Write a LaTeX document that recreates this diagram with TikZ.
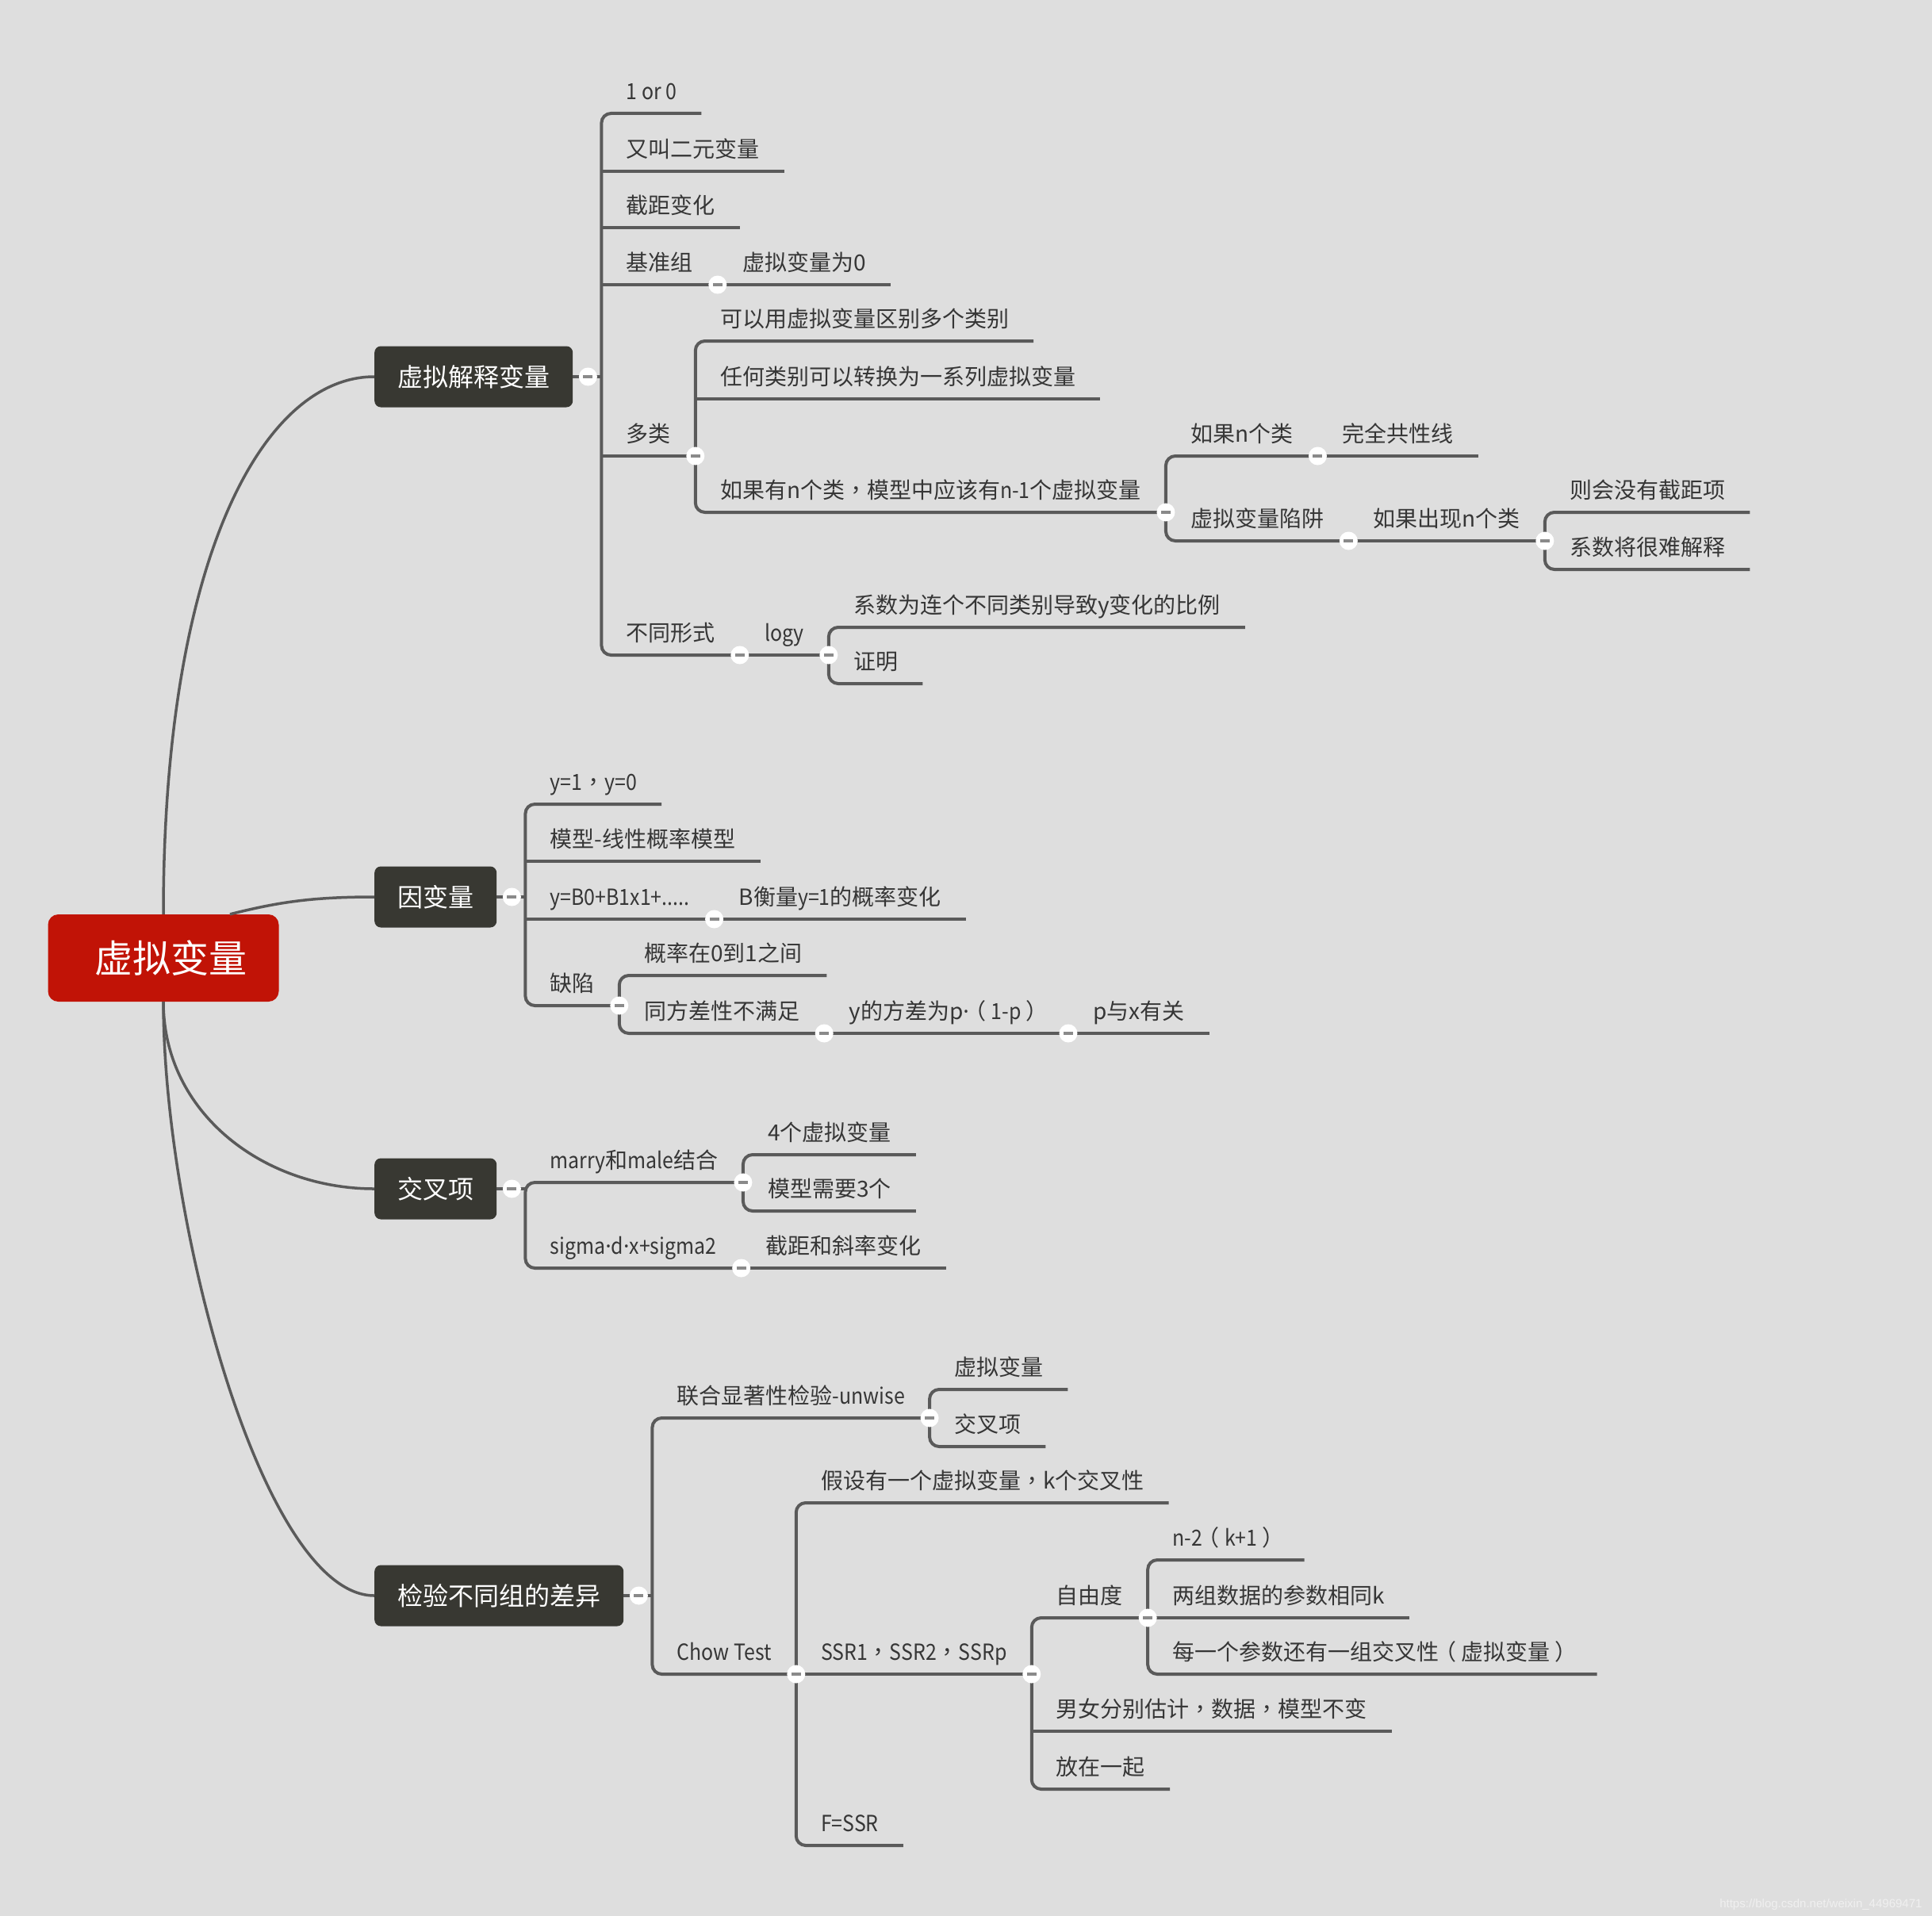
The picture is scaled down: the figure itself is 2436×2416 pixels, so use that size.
\documentclass[tikz,border=0pt]{standalone}
\usepackage{fontspec}
\setmainfont{Noto Sans CJK SC}
\newfontfamily\latnfont{Noto Sans CJK SC}[FakeStretch=0.89]
\newfontfamily\tcfont{Noto Sans CJK TC}
\newfontfamily\dotfont{Noto Sans}
\newfontfamily\wmfont{Liberation Sans}
\usepackage{tikz}
\usetikzlibrary{positioning}
\usepackage{xcolor}

\definecolor{bgc}{HTML}{DEDEDE}
\definecolor{linec}{HTML}{5A5A5A}
\definecolor{textc}{HTML}{363636}
\definecolor{boxc}{HTML}{383832}
\definecolor{rootc}{HTML}{C11306}
\definecolor{foldc}{HTML}{8A8A8A}

\tikzset{
  root/.style={rectangle, rounded corners=13pt, fill=rootc, text=white,
    font=\fontsize{48}{50}\selectfont, text height=38pt, text depth=2pt,
    inner xsep=0pt, minimum width=291pt, minimum height=110pt},
  branch/.style={rectangle, rounded corners=8pt, fill=boxc, text=white, anchor=west,
    font=\fontsize{32}{34}\selectfont, text height=26pt, text depth=2pt,
    inner xsep=29pt, minimum height=77pt},
  leaf/.style={anchor=south west, inner xsep=31pt, inner ysep=10pt,
    text height=22pt, text depth=7pt, text=textc,
    font=\fontsize{28}{30}\selectfont},
  link/.style={draw=linec, line width=4pt, rounded corners=12pt},
  curve/.style={draw=linec, line width=3.5pt},
  fold/.style={circle, fill=white, minimum size=23pt, inner sep=0pt},
}
\newcommand{\foldmark}{\textcolor{foldc}{\rule[-2pt]{12pt}{4pt}}}
\newcommand{\latn}[1]{{\latnfont #1}}
\newcommand{\fw}[1]{{\tcfont #1}}
\newcommand{\lpar}{\makebox[1em][l]{\kern-0.22em（}}
\newcommand{\rpar}{\makebox[1em][l]{\kern0.22em）}}
\newcommand{\mdot}{{\dotfont ·}}

\begin{document}
\begin{tikzpicture}[x=1pt, y=-1pt]
  \fill[bgc] (0,0) rectangle (2436,2416);
  \useasboundingbox (0,0) rectangle (2436,2416);

  % 中心主题
  \node[root] (root) at (206,1208) {\hspace*{18pt}虚拟变量};

  % 四个主分支
  \node[branch] (m1) at (472,475) {虚拟解释变量};
  \node[branch] (m2) at (472,1131) {因变量};
  \node[branch] (m3) at (472,1499) {交叉项};
  \node[branch] (m4) at (472,2012) {检验不同组的差异};

  \draw[curve] (root.north) .. controls +(0,-450) and +(-140,0) .. (m1.west);
  \draw[curve] ([xshift=84pt]root.north) .. controls +(60,-15) and +(-80,0) .. (m2.west);
  \draw[curve] (root.south) .. controls +(0,140) and +(-140,0) .. (m3.west);
  \draw[curve] (root.south) .. controls +(0,280) and +(-140,0) .. (m4.west);

  % 虚拟解释变量
  \coordinate (j1) at ([xshift=36pt]m1.east);
  \node[leaf] (a1) at (j1 |- 0,143) {\latn{1 or 0}};
  \node[leaf] (a2) at (j1 |- 0,216) {又叫二元变量};
  \node[leaf] (a3) at (j1 |- 0,287) {截距变化};
  \node[leaf] (a4) at (j1 |- 0,359) {基准组};
  \node[leaf] (a41) at (a4.south east) {虚拟变量为0};
  \node[leaf] (a5) at (j1 |- 0,575) {多类};
  \node[leaf] (a51) at (a5.south east |- 0,430) {可以用虚拟变量区别多个类别};
  \node[leaf] (a52) at (a5.south east |- 0,503) {任何类别可以转换为一系列虚拟变量};
  \node[leaf] (a53) at (a5.south east |- 0,646) {如果有n个类\fw{，}模型中应该有\latn{n-1}个虚拟变量};
  \node[leaf] (a531) at (a53.south east |- 0,575) {如果n个类};
  \node[leaf] (a532) at (a531.south east) {完全共性线};
  \node[leaf] (a533) at (a53.south east |- 0,682) {虚拟变量陷阱};
  \node[leaf] (a534) at (a533.south east) {如果出现n个类};
  \node[leaf] (a535) at (a534.south east |- 0,646) {则会没有截距项};
  \node[leaf] (a536) at (a534.south east |- 0,718) {系数将很难解释};
  \node[leaf] (a6) at (j1 |- 0,826) {不同形式};
  \node[leaf] (a61) at (a6.south east) {\latn{logy}};
  \node[leaf] (a62) at (a61.south east |- 0,791) {系数为连个不同类别导致y变化的比例};
  \node[leaf] (a63) at (a61.south east |- 0,862) {证明};

  \draw[link] (m1.east) -- (j1);
  \draw[link] (a1.south east) -| (j1 |- a6.south east) -- (a6.south east);
  \foreach \n in {a2,a3,a4,a5}
    \draw[link] (j1 |- \n.south east) -- (\n.south east);
  \draw[link] (a4.south east) -- (a41.south east);
  \draw[link] (a51.south east) -| (a5.south east |- a53.south east) -- (a53.south east);
  \draw[link] (a5.south east |- a52.south east) -- (a52.south east);
  \draw[link] (a531.south east) -| (a53.south east |- a533.south east) -- (a533.south east);
  \draw[link] (a531.south east) -- (a532.south east);
  \draw[link] (a533.south east) -- (a534.south east);
  \draw[link] (a535.south east) -| (a534.south east |- a536.south east) -- (a536.south east);
  \draw[link] (a6.south east) -- (a61.south east);
  \draw[link] (a62.south east) -| (a61.south east |- a63.south east) -- (a63.south east);

  % 因变量
  \coordinate (j2) at ([xshift=36pt]m2.east);
  \node[leaf] (b1) at (j2 |- 0,1014) {\latn{y=1}\fw{，}\latn{y=0}};
  \node[leaf] (b2) at (j2 |- 0,1086) {模型-线性概率模型};
  \node[leaf] (b3) at (j2 |- 0,1159) {\latn{y=B0+B1x1+.....}};
  \node[leaf] (b31) at (b3.south east) {B衡量\latn{y=1}的概率变化};
  \node[leaf] (b4) at (j2 |- 0,1268) {缺陷};
  \node[leaf] (b41) at (b4.south east |- 0,1230) {概率在0到1之间};
  \node[leaf] (b42) at (b4.south east |- 0,1303) {同方差性不满足};
  \node[leaf] (b43) at (b42.south east) {y的方差为p\mdot\lpar\latn{1-p}\rpar};
  \node[leaf] (b44) at (b43.south east) {p与x有关};

  \draw[link] (m2.east) -- (j2);
  \draw[link] (b1.south east) -| (j2 |- b4.south east) -- (b4.south east);
  \foreach \n in {b2,b3}
    \draw[link] (j2 |- \n.south east) -- (\n.south east);
  \draw[link] (b3.south east) -- (b31.south east);
  \draw[link] (b41.south east) -| (b4.south east |- b42.south east) -- (b42.south east);
  \draw[link] (b42.south east) -- (b43.south east) -- (b44.south east);

  % 交叉项
  \coordinate (j3) at ([xshift=36pt]m3.east);
  \node[leaf] (c1) at (j3 |- 0,1491) {\latn{marry}和\latn{male}结合};
  \node[leaf] (c11) at (c1.south east |- 0,1456) {4个虚拟变量};
  \node[leaf] (c12) at (c1.south east |- 0,1527) {模型需要3个};
  \node[leaf] (c2) at (j3 |- 0,1599) {\latn{sigma\mdot d\mdot x+sigma2}};
  \node[leaf] (c21) at (c2.south east) {截距和斜率变化};

  \draw[link] (m3.east) -- (j3);
  \draw[link] (c1.south east) -| (j3 |- c2.south east) -- (c2.south east);
  \draw[link] (c11.south east) -| (c1.south east |- c12.south east) -- (c12.south east);
  \draw[link] (c2.south east) -- (c21.south east);

  % 检验不同组的差异
  \coordinate (j4) at ([xshift=36pt]m4.east);
  \node[leaf] (d1) at (j4 |- 0,1788) {联合显著性检验\latn{-unwise}};
  \node[leaf] (d11) at (d1.south east |- 0,1752) {虚拟变量};
  \node[leaf] (d12) at (d1.south east |- 0,1824) {交叉项};
  \node[leaf] (d2) at (j4 |- 0,2111) {\latn{Chow Test}};
  \node[leaf] (d21) at (d2.south east |- 0,1895) {假设有一个虚拟变量\fw{，}k个交叉性};
  \node[leaf] (d22) at (d2.south east) {\latn{SSR1}\fw{，}\latn{SSR2}\fw{，}\latn{SSRp}};
  \node[leaf] (d23) at (d22.south east |- 0,2040) {自由度};
  \node[leaf] (d231) at (d23.south east |- 0,1967) {\latn{n-2}\lpar\latn{k+1}\rpar};
  \node[leaf] (d232) at (d23.south east) {两组数据的参数相同k};
  \node[leaf] (d233) at (d23.south east |- 0,2111) {每一个参数还有一组交叉性\lpar 虚拟变量\rpar};
  \node[leaf] (d24) at (d22.south east |- 0,2183) {男女分别估计\fw{，}数据\fw{，}模型不变};
  \node[leaf] (d25) at (d22.south east |- 0,2256) {放在一起};
  \node[leaf] (d3) at (d2.south east |- 0,2327) {\latn{F=SSR}};

  \draw[link] (m4.east) -- (j4);
  \draw[link] (d1.south east) -| (j4 |- d2.south east) -- (d2.south east);
  \draw[link] (d11.south east) -| (d1.south east |- d12.south east) -- (d12.south east);
  \draw[link] (d21.south east) -| (d2.south east |- d3.south east) -- (d3.south east);
  \draw[link] (d2.south east) -- (d22.south east);
  \draw[link] (d23.south east) -| (d22.south east |- d25.south east) -- (d25.south east);
  \draw[link] (d22.south east |- d24.south east) -- (d24.south east);
  \draw[link] (d231.south east) -| (d23.south east |- d233.south east) -- (d233.south east);
  \draw[link] (d23.south east) -- (d232.south east);

  % 折叠按钮
  \foreach \n in {m1,m2,m3,m4}
    \node[fold] (f\n) at ([xshift=19pt]\n.east) {\foldmark};
  \foreach \n in {a4,a5,a53,a531,a533,a534,a6,a61,b3,b4,b42,b43,c1,c2,d1,d2,d22,d23}
    \node[fold] (f\n) at (\n.south east) {\foldmark};

  \node[anchor=south east, font=\wmfont\fontsize{15}{17}\selectfont, text=white!55!bgc]
    (wm) at (2427,2412) {https://blog.csdn.net/weixin\_44969471};
\end{tikzpicture}
\end{document}
